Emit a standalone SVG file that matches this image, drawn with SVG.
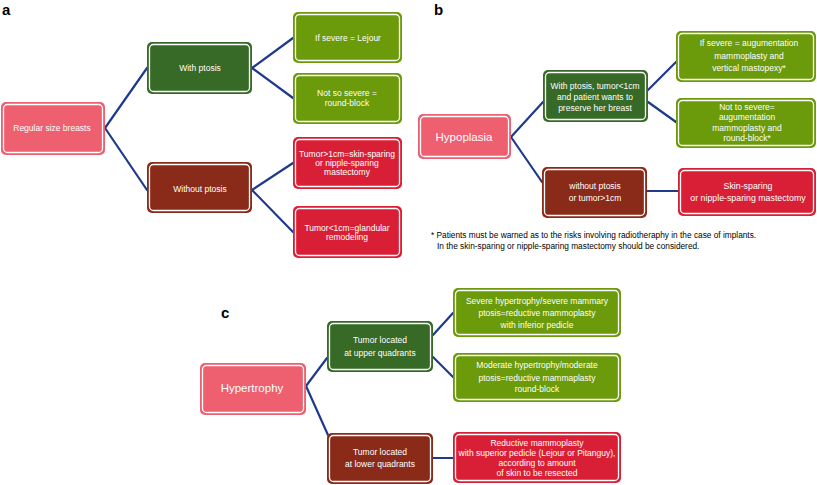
<svg xmlns="http://www.w3.org/2000/svg" width="817" height="485" viewBox="0 0 817 485">
<style>
.bg{fill:#ffffff}
.pink{fill:#EE5F6F}
.dg{fill:#376927}
.lg{fill:#6B9A0A}
.dr{fill:#8A2A19}
.rd{fill:#D91F36}
.in{fill:none;stroke:#ffffff;stroke-width:1.3}
text{font-family:"Liberation Sans",Arial,sans-serif;fill:#ffffff;text-anchor:middle;font-size:8.5px}
.lbl{fill:#000000;font-weight:bold;font-size:15px;text-anchor:start}
.note{fill:#000000;font-size:8.3px;text-anchor:start}
.big{font-size:11.5px}
.mid{font-size:8.8px}
.conn line{stroke:#1E3A8C;stroke-width:2.2;stroke-linecap:round}
</style>
<rect class="bg" x="0" y="0" width="817" height="485"/>
<text class="lbl" x="2" y="15">a</text>
<text class="lbl" x="434" y="15">b</text>
<text class="lbl" x="221" y="318">c</text>

<g id="connectors" class="conn">
<line x1="105" y1="128" x2="147" y2="68"/>
<line x1="105" y1="128" x2="147" y2="190"/>
<line x1="252" y1="68" x2="293" y2="38"/>
<line x1="252" y1="68" x2="293" y2="98"/>
<line x1="252" y1="190" x2="293" y2="163"/>
<line x1="252" y1="190" x2="293" y2="232"/>
<line x1="511" y1="137" x2="543" y2="102"/>
<line x1="511" y1="137" x2="542" y2="182"/>
<line x1="648" y1="90" x2="676" y2="62"/>
<line x1="648" y1="102" x2="676" y2="122"/>
<line x1="647" y1="191" x2="678" y2="191"/>
<line x1="306" y1="386" x2="327" y2="358"/>
<line x1="306" y1="386" x2="328" y2="435"/>
<line x1="433" y1="335" x2="453" y2="313"/>
<line x1="433" y1="357" x2="453" y2="377"/>
<line x1="433" y1="458" x2="453" y2="458"/>
</g>

<!-- Panel a -->
<g id="a-root">
<rect class="pink" x="1" y="102" width="104" height="53" rx="5"/>
<rect class="in" x="3.5" y="104.5" width="99" height="48" rx="4"/>
<text x="52" y="131">Regular size breasts</text>
</g>
<g id="a-withptosis">
<rect class="dg" x="147" y="42" width="105" height="52" rx="5"/>
<rect class="in" x="149.5" y="44.5" width="100" height="47" rx="4"/>
<text x="200" y="71">With ptosis</text>
</g>
<g id="a-withoutptosis">
<rect class="dr" x="147" y="162" width="105" height="51" rx="5"/>
<rect class="in" x="149.5" y="164.5" width="100" height="46" rx="4"/>
<text x="200" y="192">Without ptosis</text>
</g>
<g id="a-lejour">
<rect class="lg" x="293" y="12" width="109" height="51" rx="5"/>
<rect class="in" x="295.5" y="14.5" width="104" height="46" rx="4"/>
<text x="348" y="41">If severe  = Lejour</text>
</g>
<g id="a-roundblock">
<rect class="lg" x="293" y="73" width="109" height="51" rx="5"/>
<rect class="in" x="295.5" y="75.5" width="104" height="46" rx="4"/>
<text x="347" y="96">Not so severe =</text>
<text x="347" y="106">round-block</text>
</g>
<g id="a-skinsparing">
<rect class="rd" x="293" y="137" width="109" height="52" rx="5"/>
<rect class="in" x="295.5" y="139.5" width="104" height="47" rx="4"/>
<text x="347" y="157">Tumor&gt;1cm=skin-sparing</text>
<text x="347" y="166">or nipple-sparing</text>
<text x="347" y="175">mastectomy</text>
</g>
<g id="a-glandular">
<rect class="rd" x="293" y="206" width="109" height="52" rx="5"/>
<rect class="in" x="295.5" y="208.5" width="104" height="47" rx="4"/>
<text x="347" y="231">Tumor&lt;1cm=glandular</text>
<text x="347" y="240">remodeling</text>
</g>

<!-- Panel b -->
<g id="b-root">
<rect class="pink" x="418" y="114" width="93" height="45" rx="5"/>
<rect class="in" x="420.5" y="116.5" width="88" height="40" rx="4"/>
<text class="big" x="464" y="141">Hypoplasia</text>
</g>
<g id="b-withptosis">
<rect class="dg" x="543" y="70" width="105" height="52" rx="5"/>
<rect class="in" x="545.5" y="72.5" width="100" height="47" rx="4"/>
<text x="595" y="89">With ptosis, tumor&lt;1cm</text>
<text x="595" y="100">and patient wants to</text>
<text x="595" y="111">preserve her breast</text>
</g>
<g id="b-withoutptosis">
<rect class="dr" x="542" y="167" width="105" height="51" rx="5"/>
<rect class="in" x="544.5" y="169.5" width="100" height="46" rx="4"/>
<text x="595" y="189">without ptosis</text>
<text x="595" y="201">or tumor&gt;1cm</text>
</g>
<g id="b-severe">
<rect class="lg" x="676" y="31" width="140" height="51" rx="5"/>
<rect class="in" x="678.5" y="33.5" width="135" height="46" rx="4"/>
<text x="749" y="46">If severe = augumentation</text>
<text x="749" y="59">mammoplasty and</text>
<text x="749" y="71">vertical mastopexy*</text>
</g>
<g id="b-notsevere">
<rect class="lg" x="676" y="98" width="140" height="50" rx="5"/>
<rect class="in" x="678.5" y="100.5" width="135" height="45" rx="4"/>
<text x="747" y="110">Not to severe=</text>
<text x="747" y="120">augumentation</text>
<text x="747" y="131">mammoplasty and</text>
<text x="747" y="141">round-block*</text>
</g>
<g id="b-skinsparing">
<rect class="rd" x="678" y="168" width="138" height="48" rx="5"/>
<rect class="in" x="680.5" y="170.5" width="133" height="43" rx="4"/>
<text class="mid" x="748" y="189">Skin-sparing</text>
<text class="mid" x="748" y="201">or nipple-sparing mastectomy</text>
</g>
<g id="b-note">
<text class="note" x="431" y="238">* Patients must be warned as to the risks involving radiotheraphy in the case of implants.</text>
<text class="note" x="437" y="249">In the skin-sparing or nipple-sparing mastectomy should be considered.</text>
</g>

<!-- Panel c -->
<g id="c-root">
<rect class="pink" x="200" y="363" width="106" height="52" rx="5"/>
<rect class="in" x="202.5" y="365.5" width="101" height="47" rx="4"/>
<text class="big" x="252" y="392">Hypertrophy</text>
</g>
<g id="c-upper">
<rect class="dg" x="327" y="321" width="106" height="51" rx="5"/>
<rect class="in" x="329.5" y="323.5" width="101" height="46" rx="4"/>
<text x="380" y="343">Tumor located</text>
<text x="380" y="356">at upper quadrants</text>
</g>
<g id="c-lower">
<rect class="dr" x="327" y="433" width="106" height="51" rx="5"/>
<rect class="in" x="329.5" y="435.5" width="101" height="46" rx="4"/>
<text x="380" y="455">Tumor located</text>
<text x="380" y="467">at lower quadrants</text>
</g>
<g id="c-severe">
<rect class="lg" x="453" y="288" width="168" height="49" rx="5"/>
<rect class="in" x="455.5" y="290.5" width="163" height="44" rx="4"/>
<text x="537" y="304">Severe hypertrophy/severe mammary</text>
<text x="537" y="316">ptosis=reductive mammoplasty</text>
<text x="537" y="328">with inferior pedicle</text>
</g>
<g id="c-moderate">
<rect class="lg" x="453" y="353" width="168" height="49" rx="5"/>
<rect class="in" x="455.5" y="355.5" width="163" height="44" rx="4"/>
<text x="537" y="368">Moderate hypertrophy/moderate</text>
<text x="537" y="381">ptosis=reductive mammaplasty</text>
<text x="537" y="392">round-block</text>
</g>
<g id="c-reductive">
<rect class="rd" x="453" y="432" width="168" height="51" rx="5"/>
<rect class="in" x="455.5" y="434.5" width="163" height="46" rx="4"/>
<text x="537" y="446">Reductive mammoplasty</text>
<text x="537" y="456">with superior pedicle (Lejour or Pitanguy),</text>
<text x="537" y="466">according to amount</text>
<text x="537" y="476">of skin to be resected</text>
</g>
</svg>
